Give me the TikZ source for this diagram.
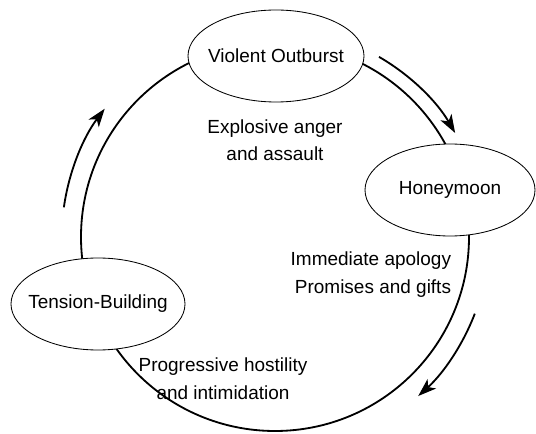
\documentclass[tikz,border=0pt]{standalone}
\usepackage{fontspec}
\setmainfont{Liberation Sans}
\usetikzlibrary{positioning, arrows.meta, shapes.geometric}

\begin{document}
\begin{tikzpicture}[
    phase/.style={ellipse, draw, fill=white, line width=0.6pt, inner xsep=-8pt, inner ysep=0pt,
                  minimum width=4.4cm, minimum height=2.3cm},
    note/.style={align=center},
    turn/.style={-{Stealth[length=13pt, width=9pt, inset=3.5pt]}, line width=1.3pt},
    font=\fontsize{13.5}{19.5}\selectfont]

    \useasboundingbox (0,0) rectangle (13.4,10.825);

    % The cycle itself
    \coordinate (c) at (6.875,4.9);
    \draw[line width=1.3pt] (c) circle[radius=4.85];

    % Nodes for the three phases
    \node[phase] (vo) at (6.9,9.425) {Violent Outburst};
    \node[phase, minimum width=4.25cm] (hm) at (11.25,6.075) {Honeymoon};
    \node[phase, minimum width=4.35cm] (tb) at (2.45,3.225) {Tension-Building};

    % Descriptions inside the cycle
    \node[note] (vo text) at (6.875,7.325) {Explosive anger\\and assault};
    \node[note, align=right, anchor=east] (hm text) at (11.4,3.96) {Immediate apology\\Promises and gifts};
    \node[note] (tb text) at (5.575,1.36) {Progressive hostility\\and intimidation};

    % Arrows round the outside
    \coordinate (a1) at ([shift={(60:5.2)}]c);
    \coordinate (a2) at ([shift={(-21:5.35)}]c);
    \coordinate (a3) at ([shift={(172:5.33)}]c);
    \draw[turn] (a1) arc[start angle=60, end angle=30, radius=5.2];
    \draw[turn] (a2) arc[start angle=-21, end angle=-48, radius=5.35];
    \draw[turn] (a3) arc[start angle=172, end angle=143, radius=5.33];

\end{tikzpicture}
\end{document}
